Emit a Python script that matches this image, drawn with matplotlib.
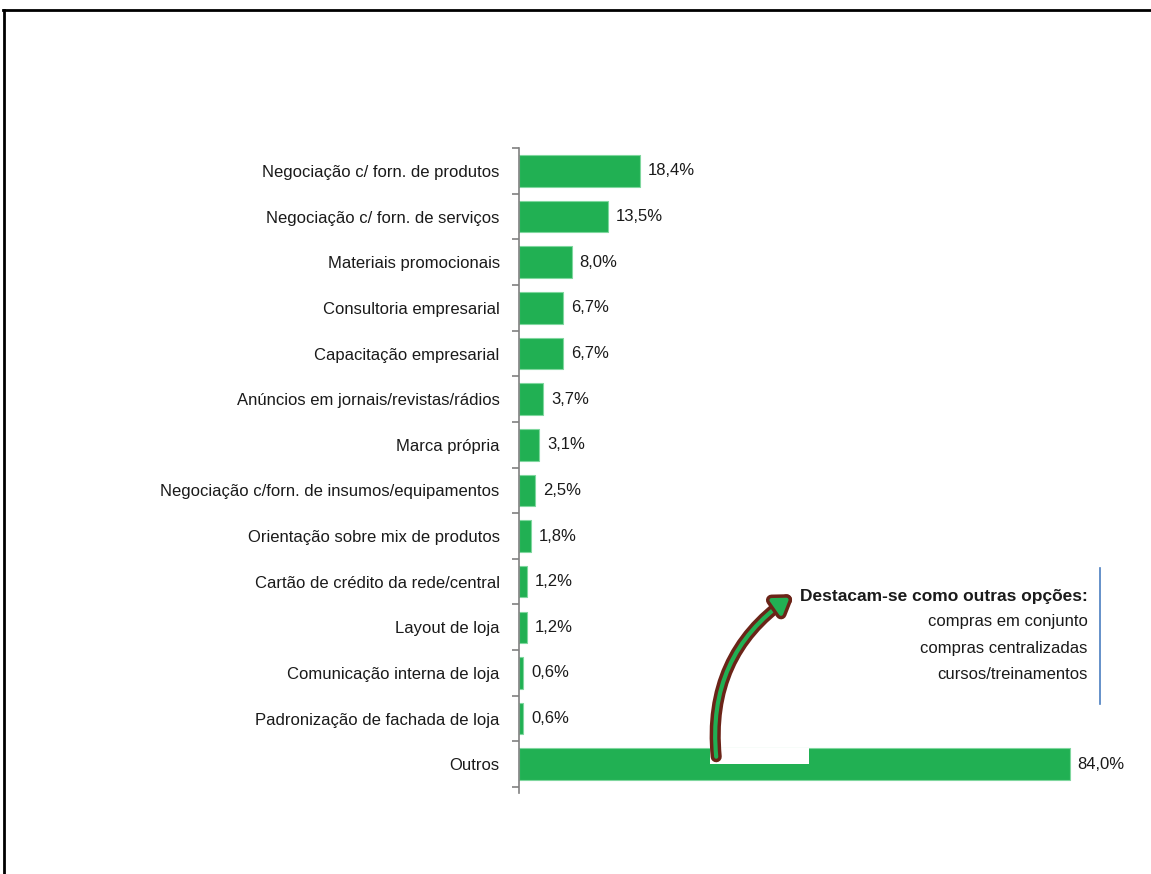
import matplotlib
matplotlib.use("Agg")
import matplotlib.pyplot as plt
from matplotlib.patches import FancyArrowPatch, Rectangle
from matplotlib.lines import Line2D
import matplotlib.patheffects as pe

plt.rcParams['font.family'] = ['Liberation Sans', 'DejaVu Sans']

categorias = [
    "Negociação c/ forn. de produtos",
    "Negociação c/ forn. de serviços",
    "Materiais promocionais",
    "Consultoria empresarial",
    "Capacitação empresarial",
    "Anúncios em jornais/revistas/rádios",
    "Marca própria",
    "Negociação c/forn. de insumos/equipamentos",
    "Orientação sobre mix de produtos",
    "Cartão de crédito da rede/central",
    "Layout de loja",
    "Comunicação interna de loja",
    "Padronização de fachada de loja",
    "Outros",
]
valores = [18.4, 13.5, 8.0, 6.7, 6.7, 3.7, 3.1, 2.5, 1.8, 1.2, 1.2, 0.6, 0.6, 84.0]

nota_titulo = "Destacam-se como outras opções:"
nota_itens = ["compras em conjunto", "compras centralizadas", "cursos/treinamentos"]

verde = "#21b053"
texto = "#1a1a1a"

fig = plt.figure(figsize=(11.51, 8.74), dpi=100)
ax = fig.add_axes([0.451, 0.0995, 0.5125, 0.731])

pos = list(range(len(categorias)))
ax.barh(pos, valores, height=0.69, color=verde, edgecolor="#7fd79e", linewidth=0.8)
ax.set_ylim(len(categorias) - 0.5, -0.5)
ax.set_xlim(0, 90)
ax.set_yticks(pos)
ax.set_yticklabels(categorias, fontsize=12, color=texto)
ax.set_yticks([p + 0.5 for p in [-1] + pos], minor=True)
ax.tick_params(axis="y", which="major", length=0, pad=14)
ax.tick_params(axis="y", which="minor", length=5, color="#808080", width=1.2)
ax.set_xticks([])
for s in ["top", "right", "bottom"]:
    ax.spines[s].set_visible(False)
ax.spines["left"].set_color("#808080")
ax.spines["left"].set_linewidth(1.2)
ax.spines["left"].set_bounds(-0.5, len(categorias) - 0.38)

for p, v in zip(pos, valores):
    ax.text(v + 1.2, p, f"{v:.1f}%".replace(".", ","), va="center", ha="left",
            fontsize=12, color=texto)

# recorte branco na barra "Outros"
ax.add_patch(Rectangle((29.2, 12.64), 15.0, 0.36, facecolor="white",
                       edgecolor="none", zorder=3))

# texto do destaque
fig.text(0.945, 0.318, nota_titulo, ha="right", va="center", fontsize=12.5,
         fontweight="bold", color=texto)
for i, t in enumerate(nota_itens):
    fig.text(0.945, 0.289 - i * 0.0305, t, ha="right", va="center",
             fontsize=12, color=texto)
fig.add_artist(Line2D([0.9557, 0.9557], [0.195, 0.35], color="#4a7ec0", lw=1.2))

# seta curva
seta = FancyArrowPatch((0.6225, 0.131), (0.688, 0.318),
                       transform=fig.transFigure,
                       connectionstyle="arc3,rad=-0.3",
                       arrowstyle="-|>,head_length=9,head_width=6",
                       mutation_scale=1, color=verde, lw=3, zorder=5,
                       path_effects=[pe.Stroke(linewidth=8, foreground="#6b2418"),
                                     pe.Normal()])
fig.add_artist(seta)

# moldura
fig.add_artist(Line2D([0.003, 1.0], [0.9885, 0.9885], color="black", lw=2))
fig.add_artist(Line2D([0.0035, 0.0035], [0.0, 0.9885], color="black", lw=2))

fig.savefig("out.png", dpi=100)
